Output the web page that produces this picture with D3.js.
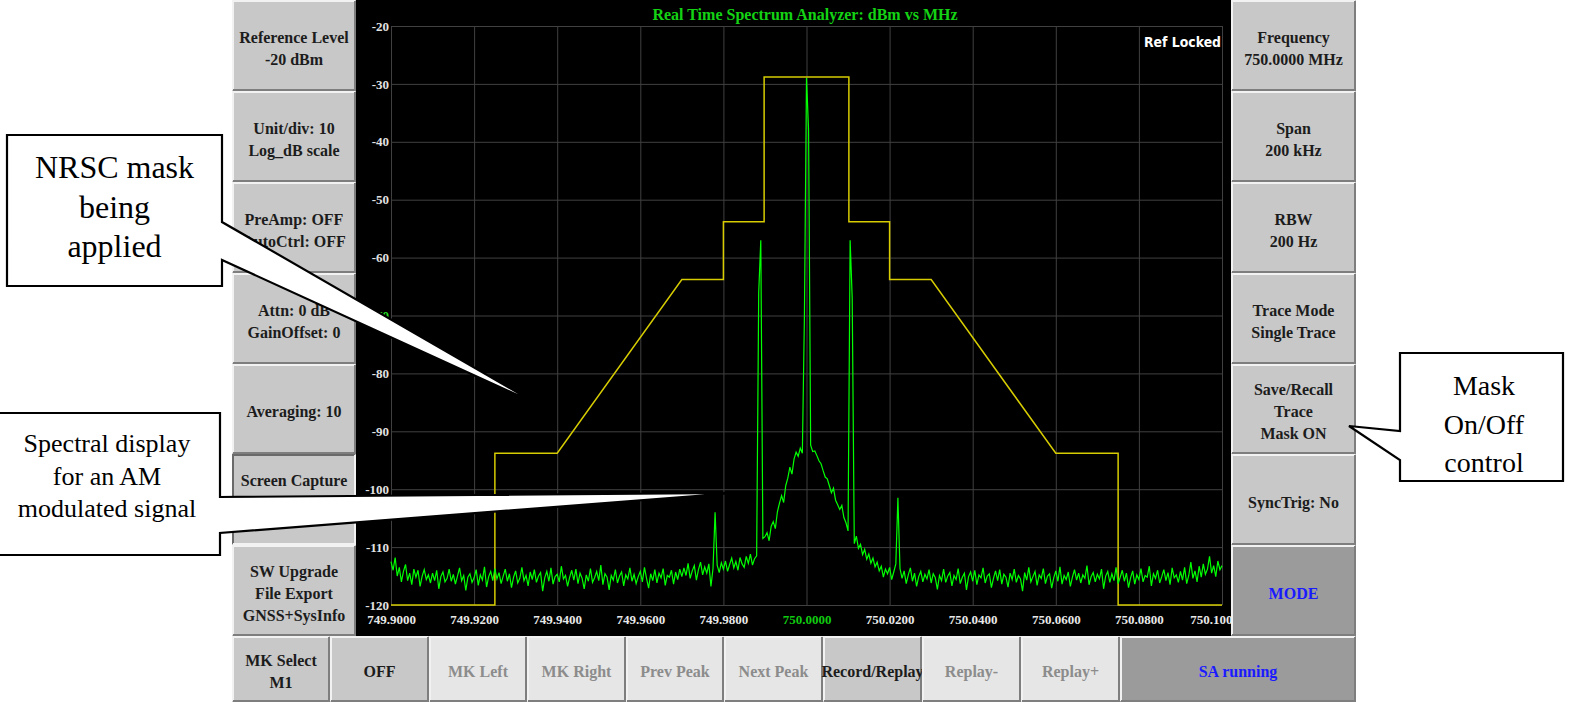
<!DOCTYPE html>
<meta charset="utf-8">
<style>
body { margin: 0; background: #fff; }
svg { display: block; }
</style>
<body>
<script src="https://d3js.org/d3.v7.min.js"></script>
<script>

// ---- chart data ----
var freqTicks  = [749.90, 749.92, 749.94, 749.96, 749.98, 750.00, 750.02, 750.04, 750.06, 750.08, 750.10];
var levelTicks = [-20, -30, -40, -50, -60, -70, -80, -90, -100, -110, -120];
var centerFreq = 750.00;

// spectrum trace (dBm), one value every 0.5 kHz from 749.9000 to 750.1000 MHz
var traceStart = 749.9, traceStep = 0.0005;
var traceLevels = [
  /*   0 */ -112.5,-114,-111.8,-115,-113.5,-116,-114.2,-113,-115.8,-114.5,-116.5,-113.8,-115.2,-114,-116.8,-115,-113.9,-115.6,-114.8,-116.2,
  /*  20 */ -114.5,-115.8,-114,-117.2,-115.1,-114.3,-116,-115.4,-113.8,-115.9,-114.7,-116.4,-115,-113.6,-115.8,-114.9,-117.5,-115.2,-114.6,-116.1,
  /*  40 */ -115.3,-113.9,-116.6,-114.8,-115.7,-113.4,-116.9,-115.1,-114.2,-115.8,-113.7,-115.5,-114.4,-116.3,-115,-113.8,-115.9,-114.6,-117,-115.2,
  /*  60 */ -114.1,-116.2,-115.4,-113.5,-115.8,-114.9,-116.7,-114.3,-115.6,-113.9,-116.1,-115,-114.4,-117.6,-115.3,-114.2,-115.9,-113.6,-116.4,-115.1,
  /*  80 */ -114.7,-116,-113.3,-115.5,-114.9,-116.8,-115.2,-114,-115.7,-113.8,-116.3,-114.5,-115.4,-117.2,-114.8,-115.9,-113.7,-116.1,-115.3,-114.2,
  /* 100 */ -115.8,-113.1,-116.5,-114.6,-115.2,-117.4,-114.9,-115.7,-113.9,-116.2,-115,-114.3,-116.7,-114.8,-115.5,-113.6,-115.9,-114.7,-116.3,-115.1,
  /* 120 */ -114.2,-116,-113.5,-115.4,-117.1,-114.6,-115.8,-113.9,-116.2,-114.5,-115.3,-113.7,-116.6,-114.9,-115.2,-114,-116.4,-114.3,-115.6,-113.8,
  /* 140 */ -115.1,-113.6,-114.9,-112.8,-115.4,-114.1,-113.2,-115.7,-113.9,-112.6,-114.8,-113.4,-114.5,-112.9,-116.8,-113.7,-104,-113.1,-114.4,-112.7,
  /* 160 */ -113.8,-112.4,-114.2,-113,-111.9,-113.6,-112.5,-114,-111.8,-112.9,-113.5,-111.6,-112.8,-111.2,-113.1,-112,-111.5,-66,-57,-108.5,
  /* 180 */ -108.2,-107.5,-108.9,-106.4,-105.6,-106.8,-103.9,-102.4,-101.1,-102.3,-99.4,-98.1,-96.2,-97.4,-94.8,-93.6,-94.3,-92.9,-93.8,-70,
  /* 200 */ -29,-38,-92.4,-93.5,-93.4,-94.2,-95.1,-95.6,-96.8,-97.9,-98.2,-99.4,-100.6,-99.8,-101.9,-102.7,-103.5,-102.8,-104.9,-105.8,
  /* 220 */ -107.2,-57,-67,-109.4,-108.1,-110.2,-109.5,-111.3,-110.4,-112.1,-111.2,-112.8,-111.9,-113.4,-112.6,-114.1,-113.3,-115.2,-113.8,-114.6,
  /* 240 */ -113.5,-115.6,-114.3,-112.9,-101.5,-113.7,-115.4,-114.1,-116.3,-114.8,-113.6,-115.9,-114.5,-116.8,-115.1,-114.2,-116,-114.7,-115.5,-113.9,
  /* 260 */ -116.2,-114.6,-115.3,-117.3,-114.9,-115.8,-113.8,-116.1,-115,-114.4,-116.7,-114.9,-115.6,-113.7,-116.3,-115.2,-114.5,-117.4,-115.1,-114.3,
  /* 280 */ -115.9,-114,-116.5,-114.8,-115.3,-113.6,-116.2,-115,-114.6,-117,-115.4,-114.1,-115.8,-113.9,-116.4,-114.7,-115.2,-116.9,-114.5,-115.6,
  /* 300 */ -113.8,-116.1,-114.9,-115.5,-117.6,-114.4,-115.7,-113.5,-116,-115.1,-114.2,-116.6,-114.8,-115.4,-113.7,-116.3,-115,-114.6,-117.1,-115.3,
  /* 320 */ -114.1,-115.9,-113.4,-116.4,-114.9,-115.6,-114.3,-116.8,-115.2,-113.9,-115.7,-114.5,-116.2,-114.8,-115.4,-113.2,-116.5,-115.1,-114.4,-116,
  /* 340 */ -114.7,-115.5,-113.8,-117.2,-115,-114.2,-116.1,-114.6,-115.8,-113.5,-116.3,-115.2,-114,-115.9,-114.5,-117,-115.3,-114.1,-116.4,-114.8,
  /* 360 */ -115.6,-113.7,-116,-114.9,-115.2,-113.3,-116.7,-114.6,-115.4,-114,-116.2,-115.1,-113.9,-115.8,-114.4,-116.5,-113.6,-115.3,-114.8,-116.1,
  /* 380 */ -114.2,-115.7,-113.5,-116.3,-114.9,-112.6,-115.4,-114.1,-116,-113.3,-115.2,-112.9,-114.7,-113.8,-111.6,-114.5,-113.2,-115.1,-112.4,-113.9,
  /* 400 */ -113.2
];

// NRSC mask corners
var maskFreqs  = [749.9, 749.925, 749.925, 749.94, 749.97, 749.98, 749.98, 749.9898, 749.9898,
                  750.0102, 750.0102, 750.02, 750.02, 750.03, 750.06, 750.075, 750.075, 750.1];
var maskLevels = [-120, -120, -93.8, -93.8, -63.8, -63.8, -53.8, -53.8, -28.8,
                  -28.8, -53.8, -53.8, -63.8, -63.8, -93.8, -93.8, -120, -120];

// soft keys
var leftKeys   = [["Reference Level", "-20 dBm"], ["Unit/div: 10", "Log_dB scale"], ["PreAmp: OFF", "AutoCtrl: OFF"],
                  ["Attn: 0 dB", "GainOffset: 0"], ["Averaging: 10"], ["Screen Capture", "", ""],
                  ["SW Upgrade", "File Export", "GNSS+SysInfo"]];
var leftStyle  = ["n", "n", "n", "n", "n", "p", "n"];
var rightKeys  = [["Frequency", "750.0000 MHz"], ["Span", "200 kHz"], ["RBW", "200 Hz"], ["Trace Mode", "Single Trace"],
                  ["Save/Recall", "Trace", "Mask ON"], ["SyncTrig: No"], ["MODE"]];
var rightStyle = ["n", "n", "n", "n", "n", "n", "m"];
var bottomKeys  = [["MK Select", "M1"], ["OFF"], ["MK Left"], ["MK Right"], ["Prev Peak"], ["Next Peak"],
                   ["Record/Replay"], ["Replay-"], ["Replay+"], ["SA running"]];
var bottomStyle = ["n", "n", "d", "d", "d", "d", "n", "d", "d", "m"];

// ---- layout ----
var serif = "'Liberation Serif', 'Times New Roman', serif";
var keyRows = [0, 91, 182, 273, 364, 454, 545, 636];
var bottomCols = [232, 330, 429, 527, 626, 724, 823, 922, 1021, 1120, 1356];
var plot = {left: 391, right: 1222, top: 26, bottom: 605};

var svg = d3.select("body").append("svg")
    .attr("width", 1591)
    .attr("height", 702);

svg.append("rect").attr("width", 1591).attr("height", 702).attr("fill", "#fff");

// black screen
svg.append("rect")
    .attr("x", 356).attr("y", 0)
    .attr("width", 875).attr("height", 636)
    .attr("fill", "#000");

svg.append("clipPath").attr("id", "screen")
  .append("rect").attr("x", 356).attr("y", 0).attr("width", 875).attr("height", 636);

var x = d3.scaleLinear().domain([749.9, 750.1]).range([plot.left, plot.right]);
var y = d3.scaleLinear().domain([-120, -20]).range([plot.bottom, plot.top]);

// level axis + horizontal grid
var gy = svg.append("g")
    .attr("transform", "translate(" + plot.left + ",0)")
    .call(d3.axisLeft(y)
        .tickValues(levelTicks)
        .tickSize(-(plot.right - plot.left))
        .tickPadding(2)
        .tickFormat(function(d) { return String(d); }));
gy.select(".domain").remove();
gy.selectAll("line").attr("stroke", "#404040");
gy.selectAll("text")
    .attr("fill", function(d) { return d === -70 ? "#22dd22" : "#e2e2e2"; })
    .attr("font-family", serif)
    .attr("font-weight", "bold")
    .attr("font-size", 13);

// frequency axis + vertical grid (clipped to the screen so the last label is cut)
var gx = svg.append("g")
    .attr("clip-path", "url(#screen)")
  .append("g")
    .attr("transform", "translate(0," + plot.bottom + ")")
    .call(d3.axisBottom(x)
        .tickValues(freqTicks)
        .tickSize(-(plot.bottom - plot.top))
        .tickPadding(10)
        .tickFormat(function(d) { return d.toFixed(4); }));
gx.select(".domain").remove();
gx.selectAll("line").attr("stroke", "#404040");
gx.selectAll("text")
    .attr("fill", function(d) { return d === centerFreq ? "#10cc10" : "#e8e8e8"; })
    .attr("font-family", serif)
    .attr("font-weight", "bold")
    .attr("font-size", 13);
gx.selectAll(".tick text").filter(function(d) { return d === 750.1; }).attr("dx", -8);

// title and status
svg.append("text")
    .attr("x", 805).attr("y", 19.5)
    .attr("text-anchor", "middle")
    .attr("fill", "#14d214")
    .attr("font-family", serif)
    .attr("font-weight", "bold")
    .attr("font-size", 16)
    .text("Real Time Spectrum Analyzer: dBm vs MHz");

svg.append("text")
    .attr("x", 1144).attr("y", 47)
    .attr("fill", "#fff")
    .attr("font-family", "'DejaVu Sans', sans-serif")
    .attr("font-weight", "bold")
    .attr("font-size", 14)
    .attr("textLength", 77)
    .attr("lengthAdjust", "spacingAndGlyphs")
    .text("Ref Locked");

// mask and trace
var traces = svg.append("g").attr("clip-path", "url(#screen)");

traces.append("path")
    .datum(maskLevels)
    .attr("fill", "none")
    .attr("stroke", "#d6cc00")
    .attr("stroke-width", 1.5)
    .attr("d", d3.line()
        .x(function(d, i) { return x(maskFreqs[i]); })
        .y(function(d) { return y(d); }));

traces.append("path")
    .datum(traceLevels)
    .attr("fill", "none")
    .attr("stroke", "#00ff00")
    .attr("stroke-width", 1.2)
    .attr("d", d3.line()
        .x(function(d, i) { return x(traceStart + i * traceStep); })
        .y(function(d) { return y(d); }));

// ---- soft keys ----
function drawKey(x0, y0, w, h, lines, style) {
  var g = svg.append("g");
  var fill = style === "d" ? "#e6e6e6" : style === "m" ? "#9b9b9b" : "#c8c8c8";
  var ink  = style === "d" ? "#8c8c8c" : style === "m" ? "#1a1aff" : "#1c1c1c";
  var hi = style === "p" ? "#6a6a6a" : "#f2f2f2";
  var lo = style === "p" ? "#f2f2f2" : "#7e7e7e";
  g.append("rect").attr("x", x0).attr("y", y0).attr("width", w).attr("height", h).attr("fill", fill);
  g.append("path").attr("d", "M" + (x0 + 1) + "," + (y0 + h - 1) + "V" + (y0 + 1) + "H" + (x0 + w - 1))
      .attr("fill", "none").attr("stroke", hi).attr("stroke-width", 2);
  g.append("path").attr("d", "M" + (x0 + 1) + "," + (y0 + h - 1) + "H" + (x0 + w - 1) + "V" + (y0 + 1))
      .attr("fill", "none").attr("stroke", lo).attr("stroke-width", 2);
  var cy = y0 + h / 2 + 2.5;
  g.selectAll("text").data(lines).enter().append("text")
      .attr("x", x0 + w / 2)
      .attr("y", function(d, i) { return cy - (lines.length - 1) * 11 + i * 22 + 5.5; })
      .attr("text-anchor", "middle")
      .attr("fill", ink)
      .attr("font-family", serif)
      .attr("font-weight", "bold")
      .attr("font-size", 16)
      .text(function(d) { return d; });
}

leftKeys.forEach(function(k, i) {
  drawKey(232, keyRows[i], 124, keyRows[i + 1] - keyRows[i], k, leftStyle[i]);
});
rightKeys.forEach(function(k, i) {
  drawKey(1231, keyRows[i], 125, keyRows[i + 1] - keyRows[i], k, rightStyle[i]);
});
bottomKeys.forEach(function(k, i) {
  drawKey(bottomCols[i], 636, bottomCols[i + 1] - bottomCols[i], 66, k, bottomStyle[i]);
});

// ---- callouts ----
var outline = d3.line().curve(d3.curveLinearClosed);

function callout(points, lines, cx, baselines, size) {
  svg.append("path")
      .attr("d", outline(points))
      .attr("fill", "#fff")
      .attr("stroke", "#000")
      .attr("stroke-width", 2.2)
      .attr("stroke-linejoin", "miter");
  svg.append("g").selectAll("text").data(lines).enter().append("text")
      .attr("x", cx)
      .attr("y", function(d, i) { return baselines[i]; })
      .attr("text-anchor", "middle")
      .attr("fill", "#000")
      .attr("font-family", serif)
      .attr("font-size", size)
      .text(function(d) { return d; });
}

callout([[7, 135], [222, 135], [222, 222], [539, 405], [222, 260], [222, 286], [7, 286]],
        ["NRSC mask", "being", "applied"], 114.5, [178, 217.5, 257], 32);

callout([[-3, 413], [220, 413], [220, 497], [734, 493], [220, 533], [220, 555], [-3, 555]],
        ["Spectral display", "for an AM", "modulated signal"], 107, [452, 484.5, 517], 26);

callout([[1400, 353], [1563, 353], [1563, 481], [1400, 481], [1400, 460], [1349, 426], [1400, 431]],
        ["Mask", "On/Off", "control"], 1484, [395, 433.5, 472], 28);

</script>
</body>
